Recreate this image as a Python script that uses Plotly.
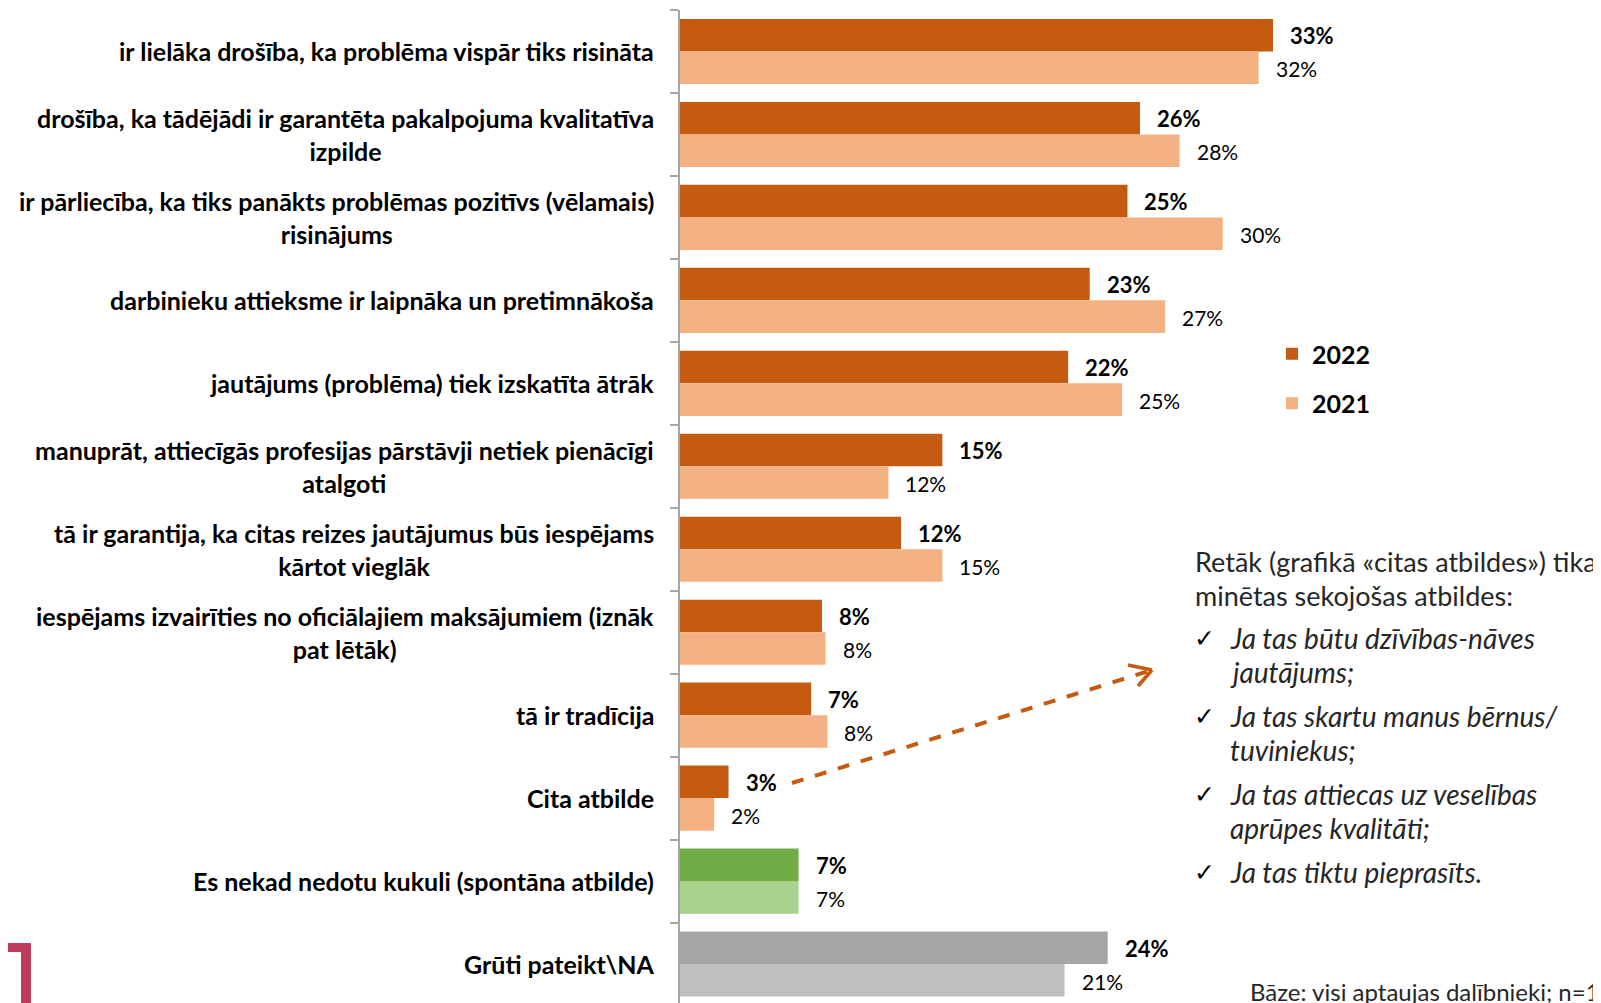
import plotly.graph_objects as go

# survey answers, top to bottom
categories = [
    "ir lielāka drošība, ka problēma vispār tiks risināta",
    "drošība, ka tādējādi ir garantēta pakalpojuma kvalitatīva izpilde",
    "ir pārliecība, ka tiks panākts problēmas pozitīvs (vēlamais) risinājums",
    "darbinieku attieksme ir laipnāka un pretimnākoša",
    "jautājums (problēma) tiek izskatīta ātrāk",
    "manuprāt, attiecīgās profesijas pārstāvji netiek pienācīgi atalgoti",
    "tā ir garantija, ka citas reizes jautājumus būs iespējams kārtot vieglāk",
    "iespējams izvairīties no oficiālajiem maksājumiem (iznāk pat lētāk)",
    "tā ir tradīcija",
    "Cita atbilde",
    "Es nekad nedotu kukuli (spontāna atbilde)",
    "Grūti pateikt\\NA",
]

# how the long names wrap on the left
category_lines = [
    ["ir lielāka drošība, ka problēma vispār tiks risināta"],
    ["drošība, ka tādējādi ir garantēta pakalpojuma kvalitatīva", "izpilde"],
    ["ir pārliecība, ka tiks panākts problēmas pozitīvs (vēlamais)", "risinājums"],
    ["darbinieku attieksme ir laipnāka un pretimnākoša"],
    ["jautājums (problēma) tiek izskatīta ātrāk"],
    ["manuprāt, attiecīgās profesijas pārstāvji netiek pienācīgi", "atalgoti"],
    ["tā ir garantija, ka citas reizes jautājumus būs iespējams", "kārtot vieglāk"],
    ["iespējams izvairīties no oficiālajiem maksājumiem (iznāk", "pat lētāk)"],
    ["tā ir tradīcija"],
    ["Cita atbilde"],
    ["Es nekad nedotu kukuli (spontāna atbilde)"],
    ["Grūti pateikt\\NA"],
]

values_2022 = [33.0, 25.6, 24.9, 22.8, 21.6, 14.6, 12.3, 7.9, 7.3, 2.7, 6.6, 23.8]
values_2021 = [32.2, 27.8, 30.2, 27.0, 24.6, 11.6, 14.6, 8.1, 8.2, 1.9, 6.6, 21.4]

note_title = ["Retāk (grafikā «citas atbildes») tika", "minētas sekojošas atbildes:"]
note_items = [
    ["Ja tas būtu dzīvības-nāves", "jautājums;"],
    ["Ja tas skartu manus bērnus/", "tuviniekus;"],
    ["Ja tas attiecas uz veselības", "aprūpes kvalitāti;"],
    ["Ja tas tiktu pieprasīts."],
]
base_note = "Bāze: visi aptaujas dalībnieki; n=1"

# styling
ORANGE, ORANGE_LT = "#C55A11", "#F4B183"
GREEN, GREEN_LT = "#70AD47", "#A9D18E"
GREY, GREY_LT = "#A5A5A5", "#BFBFBF"
colors_2022 = [ORANGE] * 10 + [GREEN, GREY]
colors_2021 = [ORANGE_LT] * 10 + [GREEN_LT, GREY_LT]

FONT = "Lato"
OFF = 8  # body margin of the html page
W, H = 1601 - OFF, 1003 - OFF
L, T = 680 - OFF, 10 - OFF  # plot area left / top in figure pixels
PW, PH = W - L, H - T
PX_PER_PCT = 17.97


def paper(x, y):
    # window pixels -> paper coords of the plot area
    x, y = x - OFF, y - OFF
    return (x - L) / PW, (H - y) / PH


fig = go.Figure()
fig.add_trace(go.Bar(
    name="2022", y=categories, x=values_2022, orientation="h",
    marker=dict(color=colors_2022, line=dict(width=0)),
    legendgroup="a", hoverinfo="x+y",
))
fig.add_trace(go.Bar(
    name="2021", y=categories, x=values_2021, orientation="h",
    marker=dict(color=colors_2021, line=dict(width=0)),
    legendgroup="b", hoverinfo="x+y",
))

annotations = []

# category names, wrapped lines centred on each other
for cat, lines in zip(categories, category_lines):
    annotations.append(dict(
        x=0, xref="paper", y=cat, yref="y", text="<br>".join(lines),
        xanchor="right", yanchor="middle", align="center", xshift=-24,
        showarrow=False,
        font=dict(family=FONT, size=25, color="#000000", weight="bold"),
    ))

# value labels
for cat, v22, v21 in zip(categories, values_2022, values_2021):
    annotations.append(dict(
        x=v22, y=cat, text=f"{round(v22)}%", xanchor="left", yanchor="middle",
        xshift=15, yshift=16, showarrow=False,
        font=dict(family=FONT, size=22, color="#000000", weight="bold"),
    ))
    annotations.append(dict(
        x=v21, y=cat, text=f"{round(v21)}%", xanchor="left", yanchor="middle",
        xshift=15, yshift=-17, showarrow=False,
        font=dict(family=FONT, size=21, color="#000000"),
    ))

# note on the right
title_font = dict(family=FONT, size=27, color="#262626")
item_font = dict(family=FONT, size=28, color="#262626")
for i, line in enumerate(note_title):
    px_, py_ = paper(1193, 561 + i * 34)
    annotations.append(dict(x=px_, y=py_, xref="paper", yref="paper", text=line,
                            xanchor="left", yanchor="middle", showarrow=False, font=title_font))
y0 = 638
for item in note_items:
    px_, py_ = paper(1192, y0)
    annotations.append(dict(x=px_, y=py_, xref="paper", yref="paper", text="✓",
                            xanchor="left", yanchor="middle", showarrow=False,
                            font=dict(family="DejaVu Sans", size=25, color="#000000",
                                      weight="bold")))
    for j, line in enumerate(item):
        px_, py_ = paper(1228, y0 + j * 34)
        annotations.append(dict(x=px_, y=py_, xref="paper", yref="paper",
                                text=f"<i>{line}</i>", xanchor="left", yanchor="middle",
                                showarrow=False, font=item_font))
    y0 += 78

px_, py_ = paper(1248, 991)
annotations.append(dict(x=px_, y=py_, xref="paper", yref="paper", text=base_note,
                        xanchor="left", yanchor="middle", showarrow=False,
                        font=dict(family=FONT, size=24, color="#262626")))

# dashed arrow from "Cita atbilde" to the note
shapes = []
sx, sy = paper(792, 783)
ex, ey = paper(1152, 670)
shapes.append(dict(type="line", xref="paper", yref="paper", x0=sx, y0=sy, x1=ex, y1=ey,
                   line=dict(color=ORANGE, width=4, dash="dash")))
for bx, by in [(1128, 665), (1138, 686)]:
    hx, hy = paper(bx, by)
    shapes.append(dict(type="line", xref="paper", yref="paper", x0=hx, y0=hy, x1=ex, y1=ey,
                       line=dict(color=ORANGE, width=3.5)))

# red corner mark bottom-left
pts = [(0, 943), (31, 943), (31, 1003), (21, 1003), (21, 952), (0, 952)]
path = "M " + " L ".join(f"{paper(x, y)[0]:.5f},{paper(x, y)[1]:.5f}" for x, y in pts) + " Z"
shapes.append(dict(type="path", xref="paper", yref="paper", path=path,
                   fillcolor="#BF3B5B", line=dict(width=0)))

lx, ly = paper(1272, 331)
fig.update_layout(
    width=W, height=H,
    margin=dict(l=L, r=0, t=T, b=0, pad=0),
    paper_bgcolor="white", plot_bgcolor="white",
    barmode="group", bargap=0.215, bargroupgap=0,
    font=dict(family=FONT, color="#000000"),
    showlegend=True,
    legend=dict(
        x=lx, y=ly, xanchor="left", yanchor="top",
        traceorder="grouped", tracegroupgap=14,
        font=dict(family=FONT, size=25, color="#000000", weight="bold"),
        bgcolor="rgba(0,0,0,0)",
    ),
    annotations=annotations,
    shapes=shapes,
)
fig.update_xaxes(range=[0, PW / PX_PER_PCT], visible=False, showgrid=False, fixedrange=True)
fig.update_yaxes(
    type="category", categoryorder="array", categoryarray=categories,
    range=[-0.5 + PH / 82.96, -0.5],
    showticklabels=False, showgrid=False, zeroline=False,
    showline=True, linecolor="#A6A6A6", linewidth=1.5,
    ticks="outside", tickson="boundaries", ticklen=8, tickcolor="#A6A6A6", tickwidth=1.5,
    fixedrange=True,
)

fig.write_html("out.html")
